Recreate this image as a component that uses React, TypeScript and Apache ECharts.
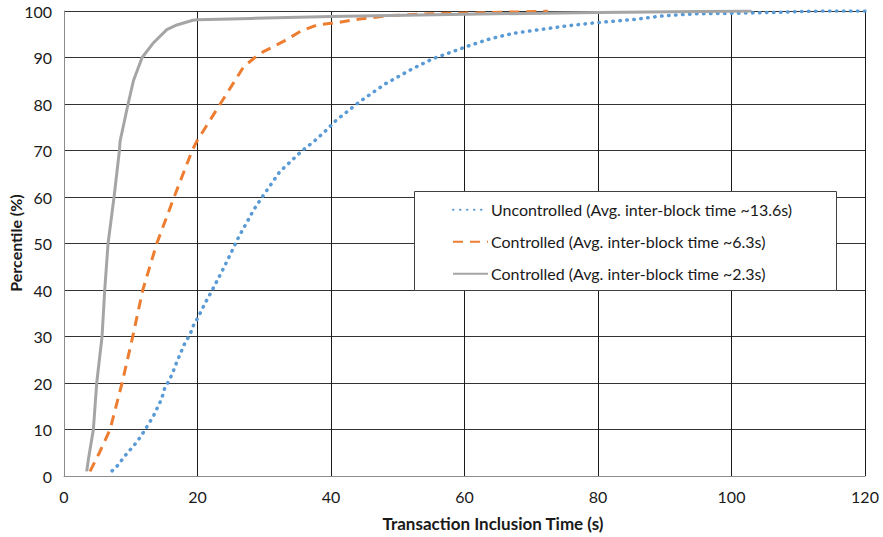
import React, { useEffect, useRef } from "react";
import * as echarts from "echarts";

const xTicks = [0, 20, 40, 60, 80, 100, 120];
const yTicks = [0, 10, 20, 30, 40, 50, 60, 70, 80, 90, 100];

const seriesNames = [
  "Uncontrolled (Avg. inter-block time ~13.6s)",
  "Controlled (Avg. inter-block time ~6.3s)",
  "Controlled (Avg. inter-block time ~2.3s)",
];

const blueX = [7.2, 8, 8.7, 9.4, 10.2, 10.9, 11.6, 12.2, 12.8, 13.4, 13.9, 14.4, 14.8, 15.1, 15.7, 16.2, 16.6, 17, 17.5, 17.9, 18.5, 19, 19.4, 20, 20.5, 21, 22.1, 23.7, 25.2, 26.2, 27.3, 28.4, 29.7, 31, 32.3, 34, 35.7, 37.4, 39.1, 40.7, 44.3, 48.1, 52.1, 55.2, 58.3, 60.6, 63.8, 67.3, 70.8, 75.3, 79.8, 85.5, 90, 94.8, 100.3, 106.2, 113.3, 120];
const blueY = [1.1, 2.2, 3.5, 4.8, 6.1, 7.3, 8.7, 10.1, 11.5, 12.9, 14.4, 15.9, 17.4, 19, 20.4, 21.9, 23.4, 24.9, 26.5, 28, 29.5, 30.9, 32.4, 33.9, 35.3, 36.8, 39.7, 44.1, 48.5, 51.5, 54.3, 57.2, 60, 62.7, 65.4, 67.7, 70, 71.9, 74.1, 76.4, 80.5, 84.3, 87.5, 89.7, 91.3, 92.5, 94, 95.2, 95.9, 96.8, 97.5, 98.2, 99, 99.4, 99.5, 99.7, 100, 100];

const orangeX = [3.9, 5.3, 6.9, 8.7, 10.3, 11.8, 13.9, 16.5, 19.2, 19.9, 23.4, 25.6, 26.9, 28.6, 29.8, 32.8, 35.4, 37.9, 40.9, 44.3, 48.8, 54.8, 61.9, 70.9, 72.5];
const orangeY = [1, 5, 10, 20, 30, 40, 50, 60, 70, 72, 80, 85, 88, 90, 91.2, 93.4, 95.6, 97, 97.5, 98.3, 99, 99.4, 99.6, 99.9, 100];

const grayX = [3.4, 3.7, 4.4, 4.9, 5.7, 6.1, 6.6, 7.5, 8.3, 8.4, 9.6, 10.4, 11.7, 13.3, 15.4, 16.9, 19.3, 20, 28, 40, 60, 80, 103];
const grayY = [1, 4, 10, 20, 30, 40, 50, 60, 70, 72, 80, 85, 90, 93, 96, 97, 98, 98.1, 98.4, 98.8, 99.3, 99.7, 100];

const zip = (xs: number[], ys: number[]) => xs.map((x, i) => [x, ys[i]]);

const FONT = "Lato";

export default function App() {
  const ref = useRef<HTMLDivElement>(null);
  useEffect(() => {
    if (!ref.current) return;
    const chart = echarts.init(ref.current, undefined, { renderer: "svg" });
    chart.setOption({
      animation: false,
      backgroundColor: "#ffffff",
      textStyle: { fontFamily: FONT },
      grid: { left: 64, right: 18, top: 11, bottom: 61, containLabel: false, outerBoundsMode: "none" },
      xAxis: {
        type: "value",
        min: xTicks[0],
        max: xTicks[xTicks.length - 1],
        interval: 20,
        axisLine: { show: true, lineStyle: { color: "#8c8c8c", width: 1 } },
        axisTick: { show: false },
        axisLabel: { color: "#1a1a1a", fontSize: 16, margin: 12, fontFamily: FONT },
        splitLine: { show: true, lineStyle: { color: "#1a1a1a", width: 1 } },
      },
      yAxis: {
        type: "value",
        min: yTicks[0],
        max: yTicks[yTicks.length - 1],
        interval: 10,
        axisLine: { show: true, lineStyle: { color: "#8c8c8c", width: 1 } },
        axisTick: { show: false },
        axisLabel: { color: "#1a1a1a", fontSize: 16, margin: 12, fontFamily: FONT },
        splitLine: { show: true, lineStyle: { color: "#333333", width: 1 } },
      },
      legend: {
        orient: "vertical",
        left: 452,
        top: 201.75,
        padding: 0,
        z: 10,
        itemWidth: 35,
        itemHeight: 14,
        itemGap: 16,
        itemStyle: { opacity: 0 },
        textStyle: { fontSize: 16, color: "#1a1a1a", fontFamily: FONT, padding: [0, 0, 0, -2] },
        data: seriesNames,
      },
      graphic: [
        {
          type: "rect",
          z: 3,
          shape: { x: 414.5, y: 191.5, width: 422, height: 99 },
          style: { fill: "#ffffff", stroke: "#404040", lineWidth: 1 },
        },
        {
          type: "text",
          z: 3,
          x: 493,
          y: 523,
          style: {
            text: "Transaction Inclusion Time (s)",
            fontSize: 17,
            fontWeight: "bold",
            fill: "#1a1a1a",
            fontFamily: FONT,
            align: "center",
            verticalAlign: "middle",
          },
        },
        {
          type: "text",
          z: 3,
          x: 15,
          y: 243,
          rotation: Math.PI / 2,
          style: {
            text: "Percentile (%)",
            fontSize: 16,
            fontWeight: "bold",
            fill: "#1a1a1a",
            fontFamily: FONT,
            align: "center",
            verticalAlign: "middle",
          },
        },
      ],
      series: [
        {
          name: seriesNames[0],
          type: "line",
          showSymbol: false,
          symbol: "none",
          z: 2,
          data: zip(blueX, blueY),
          lineStyle: { color: "#5B9BD5", width: 3.5, type: [0.5, 6.5], cap: "round" },
          itemStyle: { color: "#5B9BD5" },
        },
        {
          name: seriesNames[1],
          type: "line",
          showSymbol: false,
          symbol: "none",
          z: 2,
          data: zip(orangeX, orangeY),
          lineStyle: { color: "#ED7D31", width: 3, type: [10, 7], cap: "butt" },
          itemStyle: { color: "#ED7D31" },
        },
        {
          name: seriesNames[2],
          type: "line",
          showSymbol: false,
          symbol: "none",
          z: 2,
          data: zip(grayX, grayY),
          lineStyle: { color: "#A5A5A5", width: 3, type: "solid" },
          itemStyle: { color: "#A5A5A5" },
        },
      ],
    });
    return () => chart.dispose();
  }, []);
  return <div ref={ref} style={{ width: 883, height: 537, position: "absolute", left: 0, top: 0 }} />;
}
